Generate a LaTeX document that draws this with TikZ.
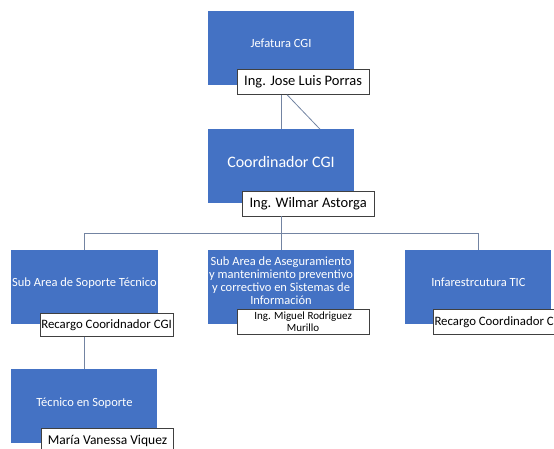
\documentclass[tikz,border=0pt]{standalone}
\usepackage{fontspec}
\setmainfont{Carlito}
\usepackage{xcolor}
\usetikzlibrary{positioning,calc}
\definecolor{unitblue}{HTML}{4472C4}
\definecolor{linkgray}{HTML}{7384A2}

\begin{document}
\begin{tikzpicture}[x=1pt, y=1pt,
unit/.style={fill=unitblue, text=white, align=center, minimum width=146pt, minimum height=74pt, inner sep=1pt, text depth=9pt, font=\fontsize{12.5}{13}\selectfont},
tag/.style={draw=black!75, line width=0.6pt, fill=white, anchor=north west, align=center, minimum width=132pt, minimum height=25pt, inner sep=1pt, font=\fontsize{14.5}{15}\selectfont},
link/.style={draw=linkgray, line width=0.8pt}
]
\useasboundingbox (0,0) rectangle (554,448);
\clip (0,0) rectangle (554,448);
\node[unit] (jefatura) at (281,400) {Jefatura CGI};
\node[unit, below=44pt of jefatura, font=\fontsize{16}{17}\selectfont] (coordinador) {Coordinador CGI};
\node[unit, below=46pt of coordinador, text depth=13pt] (aseguramiento) {Sub Area de Aseguramiento\\y mantenimiento preventivo\\y correctivo en Sistemas de\\Información};
\node[unit, left=50pt of aseguramiento] (soporte) {Sub Area de Soporte Técnico};
\node[unit, right=51pt of aseguramiento] (infra) {Infarestrcutura TIC};
\node[unit, below=45pt of soporte] (tecnico) {Técnico en Soporte};
\node[tag] (jefaturaTag) at ([shift={(29pt,16pt)}]jefatura.south west) {Ing. Jose Luis Porras};
\node[tag] (wilmarTag) at ([shift={(34pt,13pt)}]coordinador.south west) {Ing. Wilmar Astorga};
\node[tag, minimum height=23pt, font=\fontsize{12.8}{13}\selectfont] (soporteTag) at ([shift={(29pt,11pt)}]soporte.south west) {Recargo Cooridnador CGI};
\node[tag, font=\fontsize{11}{11.5}\selectfont] (miguelTag) at ([shift={(29pt,15pt)}]aseguramiento.south west) {Ing. Miguel Rodriguez\\Murillo};
\node[tag, font=\fontsize{12.8}{13}\selectfont] (infraTag) at ([shift={(28pt,15pt)}]infra.south west) {Recargo Coordinador CGI};
\node[tag, font=\fontsize{13.5}{14}\selectfont] (vanessaTag) at ([shift={(30pt,15pt)}]tecnico.south west) {María Vanessa Viquez};
\coordinate (bus) at ([yshift=-17pt]coordinador.south |- wilmarTag.south);
\draw[link] (coordinador.north |- jefaturaTag.south) -- (coordinador.north);
\draw[link] ([xshift=-16pt]jefaturaTag.south) -- ([xshift=39pt]coordinador.north);
\draw[link] (coordinador.south |- wilmarTag.south) -- (bus);
\draw[link] (soporte.north) |- (bus) -| (infra.north);
\draw[link] (bus) -- (aseguramiento.north);
\draw[link] (soporte.south |- soporteTag.south) -- (tecnico.north);
\end{tikzpicture}
\end{document}
